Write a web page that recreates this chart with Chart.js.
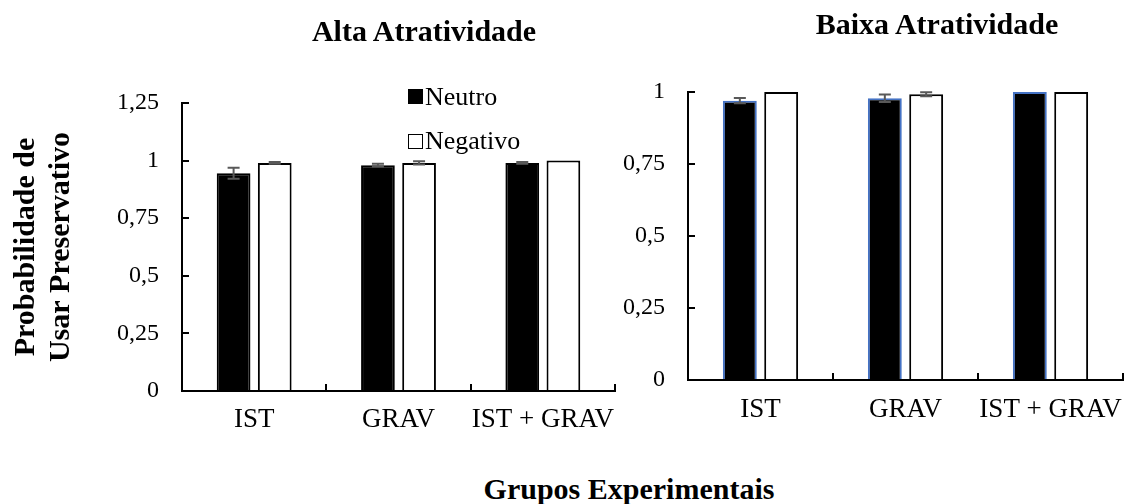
<!DOCTYPE html>
<html>
<head>
<meta charset="utf-8">
<script src="https://cdn.jsdelivr.net/npm/chart.js@4/dist/chart.umd.min.js"></script>
<style>
    body { margin: 0; background: #fff; }
    #wrap { position: relative; width: 1127px; height: 504px; overflow: hidden; font-family: 'Liberation Serif', 'Times New Roman', serif; }
    .box { position: absolute; }
    .txt { position: absolute; white-space: nowrap; color: #000; line-height: 1; }
    .title { font-weight: bold; font-size: 30px; transform: translate(-50%, -50%); }
    .leg { font-size: 26px; transform: translateY(-50%); }
    .sw { position: absolute; width: 13px; height: 13px; border: 1px solid #000; }
</style>
</head>
<body>
<div id="wrap">
    <div class="box" style="left:0;top:0;width:625px;height:450px;"><canvas id="altaChart"></canvas></div>
    <div class="box" style="left:612px;top:0;width:515px;height:450px;"><canvas id="baixaChart"></canvas></div>

    <div class="txt title" style="left:424px;top:31px;">Alta Atratividade</div>
    <div class="txt title" style="left:937px;top:24px;">Baixa Atratividade</div>
    <div class="txt title" style="left:629px;top:489px;">Grupos Experimentais</div>

    <div class="sw" style="left:408px;top:89px;background:#000;"></div>
    <div class="txt leg" style="left:425px;top:97px;">Neutro</div>
    <div class="sw" style="left:408px;top:134px;background:#fff;"></div>
    <div class="txt leg" style="left:425px;top:141px;">Negativo</div>
</div>
<script>
        const grupos = ['IST', 'GRAV', 'IST + GRAV'];

        // Alta Atratividade
        const altaNeutro = [0.945, 0.98, 0.99];
        const altaNeutroErr = [0.024, 0.006, 0.004];
        const altaNegativo = [0.99, 0.99, 1.0];
        const altaNegativoErr = [0.004, 0.007, 0];

        // Baixa Atratividade
        const baixaNeutro = [0.97, 0.978, 1.0];
        const baixaNeutroErr = [0.009, 0.013, 0];
        const baixaNegativo = [1.0, 0.992, 1.0];
        const baixaNegativoErr = [0, 0.007, 0];

        const altaTicks = [0, 0.25, 0.5, 0.75, 1, 1.25];
        const baixaTicks = [0, 0.25, 0.5, 0.75, 1];

        const black = '#000000';
        const errColor = '#595959';
        const blueEdge = '#4472C4';
        const serif = "'Liberation Serif', 'Times New Roman', serif";

        // draws the error bars from the dataset's own err array
        const errorBars = {
            id: 'errorBars',
            afterDatasetsDraw(chart) {
                const ctx = chart.ctx;
                const yScale = chart.scales.y;
                chart.data.datasets.forEach((ds, i) => {
                    const meta = chart.getDatasetMeta(i);
                    meta.data.forEach((bar, j) => {
                        const e = ds.err[j];
                        if (!e) return;
                        const v = ds.data[j];
                        const yHi = yScale.getPixelForValue(v + e);
                        const yLo = yScale.getPixelForValue(v - e);
                        ctx.save();
                        ctx.strokeStyle = errColor;
                        ctx.lineWidth = 2;
                        ctx.beginPath();
                        ctx.moveTo(bar.x, yHi); ctx.lineTo(bar.x, yLo);
                        ctx.moveTo(bar.x - 6, yHi); ctx.lineTo(bar.x + 6, yHi);
                        ctx.moveTo(bar.x - 6, yLo); ctx.lineTo(bar.x + 6, yLo);
                        ctx.stroke();
                        ctx.restore();
                    });
                });
            }
        };

        function makeChart(id, neutro, neutroErr, negativo, negativoErr, ticks, opts) {
            const ctx = document.getElementById(id).getContext('2d');
            return new Chart(ctx, {
                type: 'bar',
                data: {
                    labels: grupos,
                    datasets: [{
                        label: 'Neutro',
                        data: neutro,
                        err: neutroErr,
                        backgroundColor: black,
                        borderColor: opts.neutroEdge,
                        borderWidth: 2,
                        barPercentage: 0.82,
                        categoryPercentage: 0.57
                    }, {
                        label: 'Negativo',
                        data: negativo,
                        err: negativoErr,
                        backgroundColor: '#ffffff',
                        borderColor: black,
                        borderWidth: 2,
                        barPercentage: 0.82,
                        categoryPercentage: 0.57
                    }]
                },
                options: {
                    responsive: true,
                    maintainAspectRatio: false,
                    animation: false,
                    layout: { padding: opts.padding },
                    scales: {
                        x: {
                            grid: { drawOnChartArea: false, color: black, lineWidth: 2, tickLength: -7, offset: true },
                            border: { color: black, width: 2 },
                            ticks: { color: black, font: { family: serif, size: 27 }, padding: opts.xPad, maxRotation: 0, autoSkip: false },
                            afterFit: function(scale) {
                                scale.height = opts.xHeight;
                                scale.paddingLeft = 0;
                                scale.paddingRight = 0;
                            }
                        },
                        y: {
                            min: 0,
                            max: ticks[ticks.length - 1],
                            afterBuildTicks: function(scale) { scale.ticks = ticks.map(v => ({ value: v })); },
                            grid: { drawOnChartArea: false, color: black, lineWidth: 2, tickLength: -7 },
                            border: { color: black, width: 2 },
                            ticks: {
                                color: black,
                                font: { family: serif, size: 24 },
                                padding: 30,
                                callback: function(value) { return String(value).replace('.', ','); }
                            },
                            title: opts.yTitle,
                            afterFit: function(scale) { scale.width = opts.yWidth; }
                        }
                    },
                    plugins: {
                        legend: { display: false },
                        tooltip: { enabled: false }
                    }
                },
                plugins: [errorBars]
            });
        }

        makeChart('altaChart', altaNeutro, altaNeutroErr, altaNegativo, altaNegativoErr, altaTicks, {
            neutroEdge: black,
            padding: { top: 103, left: 0, right: 10, bottom: 0 },
            xHeight: 59,
            xPad: 20,
            yWidth: 182,
            yTitle: {
                display: true,
                text: ['Probabilidade de', 'Usar Preservativo'],
                color: black,
                font: { family: serif, size: 30, weight: 'bold', lineHeight: 1.15 },
                padding: { top: 9, bottom: 0 }
            }
        });

        makeChart('baixaChart', baixaNeutro, baixaNeutroErr, baixaNegativo, baixaNegativoErr, baixaTicks, {
            neutroEdge: blueEdge,
            padding: { top: 92, left: 0, right: 4, bottom: 0 },
            xHeight: 70,
            xPad: 21,
            yWidth: 76,
            yTitle: { display: false }
        });
</script>
</body>
</html>
